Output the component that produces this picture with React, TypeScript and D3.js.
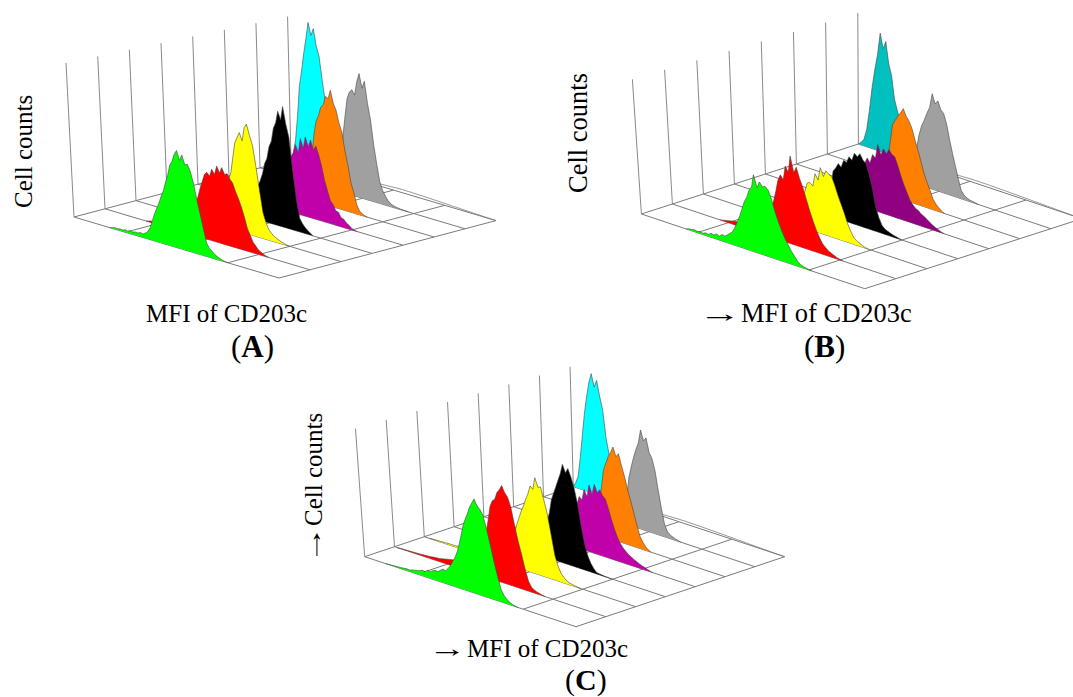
import React from 'react'
import * as d3 from 'd3'

// histogram counts per MFI bin (80 bins over the axis), one array per sample
const greenA = [0,.5,1,.8,1.2,1,1.6,1.3,2,1.6,2.2,2,2.8,2.4,3.5,5,8,13,18,22,26,31,35,41,46,53,56,61,64,58,62,56,57,53,46,36,27,18,9,6,4.5,3,2,1.2,.6,.3,0]
const redA = [0,.5,1,.7,1.2,1,1.5,1.2,1.8,1.5,2,2.4,2,3,4,5,7,10,14,18,22,26,32,37,42,44,42,47,44,50,46,50,46,47,44,42,37,33,28,22,15,11,7,5,3,2,1,.4,0]
const yellowA = [0,.5,.8,1,1.2,1,1.5,1.8,2,2.5,3,4,5,7,10,13,17,22,27,32,37,47,57,61,65,60,69,72,65,59,46,31,17,11,7,5,3.5,2.6,1.8,1.2,.7,.3,0]
const blackA = [0,.5,1,1,1.3,1.6,2,2.5,3,4,5,7,9,12,15,18,22,26,31,38,42,50,54,63,67,75,70,79,68,60,38,20,9,6,4,2.5,1.2,0]
const magentaA = [0,.6,1,1.2,1.5,2,2.5,3,4,5.5,7,10,15,22,30,36,39,45,40,50,44,52,46,51,45,48,43,36,27,21,15,13,9.5,9,6,5.5,3.5,2.5,1,.5,0]
const orangeA = [0,.5,1,1.5,2,3,5,8,16,30,44,53,57,63,65,71,70,76,68,64,56,51,39,30,19,13,6,2.5,1.2,.5,0]
const grayA = [0,.4,.8,1.2,2,3,5,10,22,37,50,62,67,69,66,75,81,72,77,63,53,37,25,14,9,6,3.5,2,1.2,.8,.5,.3,.2,.1,0]
const cyanA = [0,5,14,30,50,60,72,82,93,85,90,79,73,58,45,34,25,18,13,9,7,5,3.5,2.5,2,1.5]

const greenB = [0,.8,1,1.5,1,1.5,1,2,1.5,3,2.5,4,3,5,4.5,6,8,10,14,19,24,30,36,40,46,49,59,50,55,52,53,51,45,36,29,23,18,14,10,7,4,2,1.2,.8,.4,0]
const redB = [0,.5,1,1.5,2,2.5,3,2.5,3.5,3,4,4,5,6,7,9,11,14,17,22,28,36,45,50,47,58,54,67,55,60,52,46,38,30,23,17,12,8,6,4,3,2,1,.5,0]
const yellowB = [0,.5,1,1,1.5,2,2,2.5,3,3.5,4,5,6,8,10,13,17,22,28,35,36,34,44,40,50,44,49,47,46,40,33,27,21,14,9,5,3.5,2.2,1.2,.5,0]
const blackB = [0,.5,1,1,1.5,2,2.5,3,4,5,6,8,11,15,22,35,38,42,40,46,45,50,48,54,52,55,51,49,42,32,18,11,6,4,3,2.2,1.5,1,.5,0]
const purpleB = [0,.5,1,1.2,1.5,2,2.5,3,4,5,7,11,20,30,33,38,35,42,40,51,44,49,46,50,47,46,40,33,27,22,17,14,12,11,9,8,6.5,5,3.5,2.5,1.5,.7,0]
const orangeB = [0,.5,1,1.5,2.5,4,6,10,18,27,40,54,58,62,65,69,64,61,56,48,41,33,25,19,14,8,5,3,1.2,0]
const grayB = [0,.4,.8,1.2,2,3,6,12,25,37,45,50,56,61,72,65,68,62,60,53,42,32,23,14,6,3.5,2,1.2,.8,.4,0]
const cyanB = [0,2,5,13,28,46,60,72,89,78,84,68,60,43,35,28,20,14,10,7,5,3.5,2.5,2,1.5]

const greenC = [0,.2,.3,.5,.6,.8,1,1.2,1.5,1.3,2,2.5,3,3.5,4.5,4,6,5.5,7,8,7.5,9.5,11,10.5,13,16,20,24,29,36,44,52,58,63,69,73,77,72,70,66,56,44,31,20,10,6,3.5,2,1,.4,0]
const redC = [0,.2,.3,.4,.5,.6,.7,.8,.9,1,1.2,1.3,1.5,1.7,2,2.3,2.5,3,3.5,4,4.5,5,5,6,6,7,8,9,10,11,13,15,18,23,30,38,48,59,64,66,72,75,79,74,71,64,50,38,28,17,8,4,2.5,1.5,1,.4,0]
const yellowC = [0,.3,.4,.5,.6,.7,.8,.9,1,1,1.2,1.3,1.5,1.7,2,2,2.5,3,3,3.5,4,4.5,5,6,6,7,8,9,11,13,16,19,23,28,35,41,47,52,58,63,70,68,78,71,72,62,52,36,20,12,7,4.5,2.5,1.5,1,.6,.3,0]
const blackC = [0,.4,.8,1,1.2,1.5,2,2.5,3,4,5,7,9,12,16,22,30,37,48,54,60,66,72,80,74,78,72,64,52,34,20,12,7,3.5,1.2,.8,.5,.3,.2,.1,0]
const magentaC = [0,.5,1,1.2,1.5,2,2.5,3,4,5,7,10,15,24,35,42,40,49,44,54,47,56,50,53,49,47,40,32,25,19,15,12,10,8,7,5.5,4.5,3.5,2.5,2,1.2,.5,0]
const orangeC = [0,.5,1,1.5,2.5,4,6,10,16,26,40,54,60,66,70,75,68,71,62,54,44,36,27,18,10,6,3,1.2,0]
const grayC = [0,.4,.8,1.2,2,3,6,12,24,39,48,56,63,69,80,72,75,64,60,51,36,22,10,5,3,2,1.2,.6,0]
const cyanC = [0,4,10,26,44,62,76,88,96,86,92,80,70,48,36,26,19,13,9,6.5,4.5,3.5,2.5,2]

// low counts on the last sample, shows as the second line at the back of the floor
const cyanTail = [1.2,1,1.2,1,1.2,1.1,1.3,1.2,1.4,1.5,1.6,1.7,1.8,1.9,2,2,2.1,2,2,2,1.9,1.9,1.8,1.8,1.7,1.7,1.6,1.5,1.5,1.4,1.3,1.3,1.2,1.1,1,1,.9,.8,.7,.7,.6,.5,.4,.4,.3,.2,.2,.1,.1,0]

const firstBinA = [14, 16, 18, 20, 22, 24, 24, 0]
const firstBinB = [16, 17, 19, 21, 22, 24, 24, 0]
const firstBinC = [8, 1, 2, 20, 22, 24, 24, 0]

const mfiTicks = [0, 0.25, 0.5, 0.75, 1]
const depthTicks = [0, 1, 2, 3, 4, 5, 6, 7]
const binCount = 80

type Panel = {
  series: number[][]
  firstBin: number[]
  colors: string[]
  origin: number[]
  mfiVec: number[]
  depthVec: number[]
  wall: number[]
  countHeight: number
  lean: number[]
}

const colorsBright = ['#00ff00', '#ff0000', '#ffff00', '#000000', '#c000a8', '#ff8000', '#a0a0a0', '#00ffff']
const colorsDark = ['#00ff00', '#ff0000', '#ffff00', '#000000', '#900080', '#ff8000', '#a0a0a0', '#00c0c0']

const panels: Panel[] = [
  {
    series: [greenA, redA, yellowA, blackA, magentaA, orangeA, grayA, cyanA],
    firstBin: firstBinA,
    colors: colorsBright,
    origin: [74, 217],
    mfiVec: [205, 61],
    depthVec: [31, -8.2],
    wall: [154, 143],
    countHeight: 154,
    lean: [8, 3.7],
  },
  {
    series: [greenB, redB, yellowB, blackB, purpleB, orangeB, grayB, cyanB],
    firstBin: firstBinB,
    colors: colorsDark,
    origin: [641.4, 214],
    mfiVec: [223.4, 74.7],
    depthVec: [31, -10],
    wall: [134.7, 131],
    countHeight: 133,
    lean: [8.9, 0.6],
  },
  {
    series: [greenC, redC, yellowC, blackC, magentaC, orangeC, grayC, cyanC],
    firstBin: firstBinC,
    colors: colorsBright,
    origin: [364.7, 556.7],
    mfiVec: [211.3, 70],
    depthVec: [29.8, -10],
    wall: [128, 120],
    countHeight: 125,
    lean: [9, 3.4],
  },
]

const project = (p: Panel) => {
  const l = d3.scaleLinear().domain([0, 7]).range(p.lean)
  return (mfi: number, depth: number, count: number) => {
    const c = count / 100
    return [
      p.origin[0] + mfi * p.mfiVec[0] + depth * p.depthVec[0] - c * l(depth),
      p.origin[1] + mfi * p.mfiVec[1] + depth * p.depthVec[1] - c * p.countHeight,
    ]
  }
}

const lineGen = d3.line<number[]>().x(d => d[0]).y(d => d[1])
const binToMfi = d3.scaleLinear().domain([0, binCount]).range([0, 1])

function Histogram({ panel, index }: { panel: Panel; index: number }) {
  const pt = project(panel)
  const values = panel.series[index]
  const first = panel.firstBin[index]
  const area = d3.area<number>()
    .x0((d, i) => pt(binToMfi(first + i), index, 0)[0])
    .y0((d, i) => pt(binToMfi(first + i), index, 0)[1])
    .x1((d, i) => pt(binToMfi(first + i), index, d)[0])
    .y1((d, i) => pt(binToMfi(first + i), index, d)[1])
  const top = values.map((d, i) => pt(binToMfi(first + i), index, d))
  return (
    <g>
      <path d={area(values) || ''} fill={panel.colors[index]} />
      <path d={lineGen(top) || ''} fill="none" stroke="#444" strokeWidth={0.6} />
    </g>
  )
}

function Waterfall({ panel }: { panel: Panel }) {
  const pt = project(panel)
  const wall = d3.scaleLinear().domain([0, 7]).range(panel.wall)
  const grid = '#7a7a7a'
  const last = panel.series.length - 1
  const tailStart = panel.firstBin[last] + panel.series[last].length
  const tail = cyanTail.map((d, i) => pt(binToMfi(tailStart + i * (binCount - tailStart) / (cyanTail.length - 1)), last, d))
  return (
    <g>
      {depthTicks.map(d => (
        <path key={'w' + d} d={lineGen([pt(0, d, 0), pt(0, d, 100 * wall(d) / panel.countHeight)]) || ''} stroke="#8a8a8a" strokeWidth={1} fill="none" />
      ))}
      {depthTicks.map(d => (
        <path key={'x' + d} d={lineGen([pt(0, d, 0), pt(1, d, 0)]) || ''} stroke={grid} strokeWidth={1} fill="none" />
      ))}
      {mfiTicks.map(m => (
        <path key={'z' + m} d={lineGen([pt(m, 0, 0), pt(m, 7, 0)]) || ''} stroke={grid} strokeWidth={1} fill="none" />
      ))}
      <path d={lineGen(tail) || ''} stroke={grid} strokeWidth={0.8} fill="none" />
      {d3.range(last, -1, -1).map(i => (
        <Histogram key={i} panel={panel} index={i} />
      ))}
    </g>
  )
}

const font = '"Liberation Serif", "Times New Roman", serif'

export default function App() {
  return (
    <svg width={1073} height={697} style={{ position: 'absolute', left: 0, top: 0, background: '#fff' }} fontFamily={font} fill="#000">
      {panels.map((p, i) => <Waterfall key={i} panel={p} />)}

      <text transform="translate(32,208) rotate(-90)" fontSize={25}>Cell counts</text>
      <text x={146} y={322} fontSize={25}>MFI of CD203c</text>
      <text x={231} y={357} fontSize={31}>(<tspan fontWeight="bold">A</tspan>)</text>

      <text transform="translate(587,193) rotate(-90)" fontSize={26.5}>Cell counts</text>
      <text transform="translate(698.3,322) scale(1.73,1)" fontSize={25}>→</text>
      <text x={741} y={322} fontSize={26.5}>MFI of CD203c</text>
      <text x={804} y={357} fontSize={31}>(<tspan fontWeight="bold">B</tspan>)</text>

      <text transform="translate(321,563.7) rotate(-90) scale(1.53,1)" fontSize={25} textRendering="geometricPrecision">→</text>
      <text transform="translate(322,526) rotate(-90)" fontSize={25}>Cell counts</text>
      <text transform="translate(428.3,657) scale(1.53,1)" fontSize={25}>→</text>
      <text x={467} y={657} fontSize={25}>MFI of CD203c</text>
      <text x={565} y={690} fontSize={30}>(<tspan fontWeight="bold">C</tspan>)</text>
    </svg>
  )
}
